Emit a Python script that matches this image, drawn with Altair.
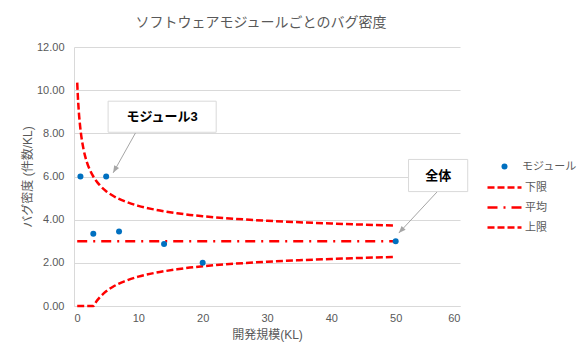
import altair as alt
import pandas as pd
import numpy as np

# ---- data ----
mod_x = [1, 3, 5, 7, 14, 20, 50]
mod_y = [6.00, 3.35, 6.00, 3.45, 2.87, 2.00, 3.00]

lim_x = [0.5, 0.6, 0.75, 1, 1.5, 2, 2.5, 3, 3.5, 4, 5, 6, 7, 8, 10, 12, 14, 16, 18, 20, 25, 30, 35, 40, 45, 50]
upper = [10.35, 9.71, 9.00, 8.20, 7.24, 6.67, 6.29, 6.00, 5.78, 5.60, 5.32, 5.12, 4.96, 4.84, 4.64, 4.50,
         4.39, 4.30, 4.22, 4.16, 4.04, 3.95, 3.88, 3.82, 3.77, 3.73]
lower = [0.00, 0.00, 0.00, 0.00, 0.00, 0.00, 0.00, 0.00, 0.22, 0.40, 0.68, 0.88, 1.04, 1.16, 1.36, 1.50,
         1.61, 1.70, 1.78, 1.84, 1.96, 2.05, 2.12, 2.18, 2.23, 2.27]
avg_x = [0.5, 50]
avg_y = [3.00, 3.00]

series_lines = ["下限", "平均", "上限"]
series_pts = ["モジュール"]

# annotations (data units)
box_labels = ["モジュール3", "全体"]
box_x1 = [5.3, 52.0]
box_x2 = [22.1, 61.2]
box_y1 = [8.05, 5.30]
box_y2 = [9.49, 6.79]
arrow_x1 = [9.56, 56.45]
arrow_y1 = [8.02, 5.29]
arrow_x2 = [6.09, 50.49]
arrow_y2 = [6.17, 3.38]

FONT = "Liberation Sans, Noto Sans CJK JP"
GRAY = "#595959"

pts = pd.DataFrame({"x": mod_x, "y": mod_y, "s": series_pts[0]})
lines = pd.concat([
    pd.DataFrame({"x": lim_x, "y": lower, "s": "下限"}),
    pd.DataFrame({"x": avg_x, "y": avg_y, "s": "平均"}),
    pd.DataFrame({"x": lim_x, "y": upper, "s": "上限"}),
])

W, H = 386, 259
# arrow head angles in pixel space
ppx, ppy = W / 60.0, H / 12.0
ang = []
for i in range(2):
    dx = (arrow_x2[i] - arrow_x1[i]) * ppx
    dy = -(arrow_y2[i] - arrow_y1[i]) * ppy
    a = np.degrees(np.arctan2(dx, -dy)) % 360
    ang.append(float(a))

boxes = pd.DataFrame({"t": box_labels, "x1": box_x1, "x2": box_x2, "y1": box_y1, "y2": box_y2,
                      "tx": [(a + b) / 2 for a, b in zip(box_x1, box_x2)],
                      "ty": [(a + b) / 2 for a, b in zip(box_y1, box_y2)]})
arrows = pd.DataFrame({"x1": arrow_x1, "y1": arrow_y1, "x2": arrow_x2, "y2": arrow_y2, "a": ang})

xs = alt.Scale(domain=[0, 60], nice=False)
ys = alt.Scale(domain=[0, 12], nice=False)
xax = alt.Axis(values=[0, 10, 20, 30, 40, 50, 60], title="開発規模(KL)", grid=False,
               labelPadding=6, titlePadding=6)
yax = alt.Axis(values=[0, 2, 4, 6, 8, 10, 12], format=".2f", title="バグ密度 (件数/KL)",
               labelPadding=10, titlePadding=2)

line_layer = alt.Chart(lines).mark_line(strokeWidth=2.5, interpolate="monotone", strokeCap="butt",
                                        color="#FF0000").encode(
    x=alt.X("x:Q", scale=xs, axis=xax),
    y=alt.Y("y:Q", scale=ys, axis=yax),
    strokeDash=alt.StrokeDash("s:N", scale=alt.Scale(domain=series_lines,
                                                     range=[[7, 3], [10, 6, 2, 6], [7, 3]]),
                              legend=alt.Legend(title=None, orient="none", legendX=424, legendY=134,
                                                symbolType="M-3.4,0H3.4", symbolSize=100,
                                                symbolStrokeColor="#FF0000",
                                                symbolStrokeWidth=2.5, labelOffset=14, rowPadding=8)),
    order=alt.Order("x:Q"),
)

pt_layer = alt.Chart(pts).mark_circle(size=36, opacity=1).encode(
    x="x:Q", y="y:Q",
    fill=alt.Fill("s:N", scale=alt.Scale(domain=series_pts, range=["#0070C0"]),
                  legend=alt.Legend(title=None, orient="none", legendX=425, legendY=114,
                                    symbolType="circle", symbolSize=36, symbolStrokeWidth=0,
                                    labelOffset=12)),
)

arrow_layer = alt.Chart(arrows).mark_rule(color="#A6A6A6", strokeWidth=1).encode(
    x="x1:Q", y="y1:Q", x2="x2:Q", y2="y2:Q")
head_layer = alt.Chart(arrows).mark_point(shape="M0,0L-0.8,2L0.8,2Z", size=49, filled=True,
                                          color="#A6A6A6", opacity=1).encode(
    x="x2:Q", y="y2:Q", angle=alt.Angle("a:Q", scale=None))

box_layer = alt.Chart(boxes).mark_rect(fill="white", stroke="#D9D9D9", strokeWidth=1).encode(
    x="x1:Q", x2="x2:Q", y="y1:Q", y2="y2:Q")
text_layer = alt.Chart(boxes).mark_text(fontSize=13, fontWeight="bold", color="#000000",
                                        font=FONT).encode(x="tx:Q", y="ty:Q", text="t:N")

chart = alt.layer(line_layer, pt_layer, arrow_layer, head_layer, box_layer, text_layer).properties(
    width=W, height=H,
    title=alt.TitleParams("ソフトウェアモジュールごとのバグ密度", fontSize=14, fontWeight="normal",
                          color=GRAY, font=FONT, anchor="middle", dx=-6, offset=11),
    autosize=alt.AutoSizeParams(type="none"),
    padding={"left": 66, "top": 39, "right": 118, "bottom": 40},
).configure_view(stroke=None).configure_axis(
    gridColor="#D9D9D9", domainColor="#D9D9D9", ticks=False, labelColor=GRAY, labelFontSize=11,
    titleColor=GRAY, titleFontSize=12, titleFontWeight="normal", labelFont=FONT, titleFont=FONT,
).configure_legend(labelColor=GRAY, labelFontSize=11, labelFont=FONT)

chart.save("out.html", embed_options={"renderer": "svg", "actions": False})
